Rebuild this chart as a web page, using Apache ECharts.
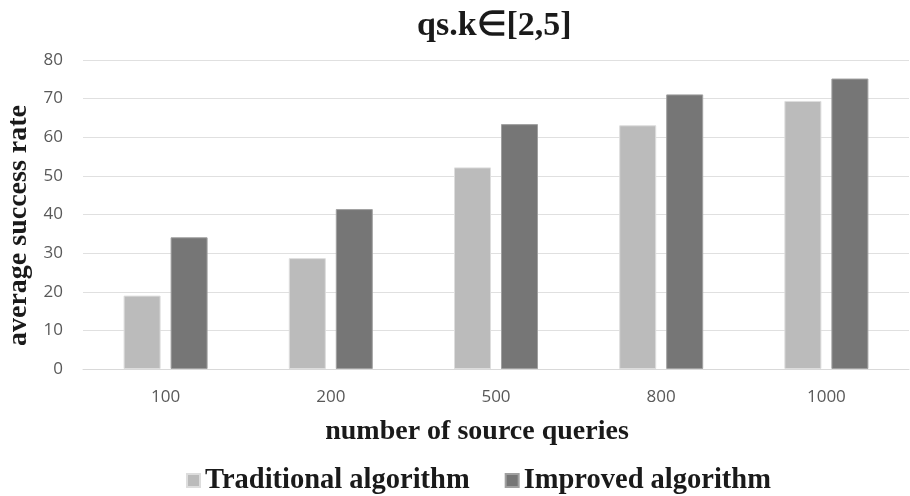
<!DOCTYPE html>
<html>
<head>
<meta charset="utf-8">
<script src="https://cdn.jsdelivr.net/npm/echarts@6/dist/echarts.min.js"></script>
<style>html,body{margin:0;padding:0;background:#fff}#c{width:910px;height:496px}</style>
</head>
<body>
<div id="c"></div>
<script>
const categories = ['100', '200', '500', '800', '1000'];
const traditional = [19, 28.7, 52.2, 63.1, 69.4];
const improved = [34.1, 41.4, 63.4, 71.1, 75.2];
const yTicks = [0, 10, 20, 30, 40, 50, 60, 70, 80];

const chart = echarts.init(document.getElementById('c'), null, {renderer: 'canvas'});
const serif = '"Liberation Serif", "Times New Roman", serif';
chart.setOption({
  animation: false,
  backgroundColor: '#ffffff',
  title: {
    text: 'qs.k\u2208[2,5]',
    left: 412,
    top: 4,
    textStyle: {fontFamily: serif, fontWeight: 'bold', fontSize: 34, color: '#1a1a1a'}
  },
  legend: {
    top: 461,
    left: 181,
    itemWidth: 13,
    itemHeight: 13,
    itemGap: 35,
    icon: 'rect',
    textStyle: {fontFamily: serif, fontWeight: 'bold', fontSize: 28.5, color: '#1a1a1a'},
    data: ['Traditional algorithm', 'Improved algorithm']
  },
  grid: {left: 83, right: 1, top: 60, bottom: 127, outerBoundsMode: 'none', containLabel: false},
  xAxis: {
    type: 'category',
    data: categories,
    name: 'number of source queries',
    nameLocation: 'middle',
    nameGap: 49,
    nameTextStyle: {fontFamily: serif, fontWeight: 'bold', fontSize: 28, color: '#1a1a1a', padding: [0, 38, 0, 0]},
    axisLine: {lineStyle: {color: '#d9d9d9', width: 1}},
    axisTick: {show: false},
    axisLabel: {margin: 20, fontFamily: '"Open Sans", "Liberation Sans", sans-serif', fontSize: 17, color: '#595959'}
  },
  yAxis: {
    type: 'value',
    min: yTicks[0],
    max: yTicks[yTicks.length - 1],
    interval: 10,
    name: 'average success rate',
    nameLocation: 'middle',
    nameGap: 47,
    nameTextStyle: {fontFamily: serif, fontWeight: 'bold', fontSize: 28, color: '#1a1a1a', padding: [0, 22, 0, 0]},
    axisLine: {show: false},
    axisTick: {show: false},
    axisLabel: {margin: 20, fontFamily: '"Open Sans", "Liberation Sans", sans-serif', fontSize: 17, color: '#595959'},
    splitLine: {lineStyle: {color: '#e0e0e0', width: 1}}
  },
  series: [
    {
      name: 'Traditional algorithm',
      type: 'bar',
      data: traditional,
      barWidth: 37,
      barGap: '27%',
      itemStyle: {color: '#bbbbbb', borderColor: '#dddddd', borderWidth: 1}
    },
    {
      name: 'Improved algorithm',
      type: 'bar',
      data: improved,
      barWidth: 37,
      barGap: '27%',
      itemStyle: {color: '#767676', borderColor: '#a0a0a0', borderWidth: 1}
    }
  ]
});
</script>
</body>
</html>
